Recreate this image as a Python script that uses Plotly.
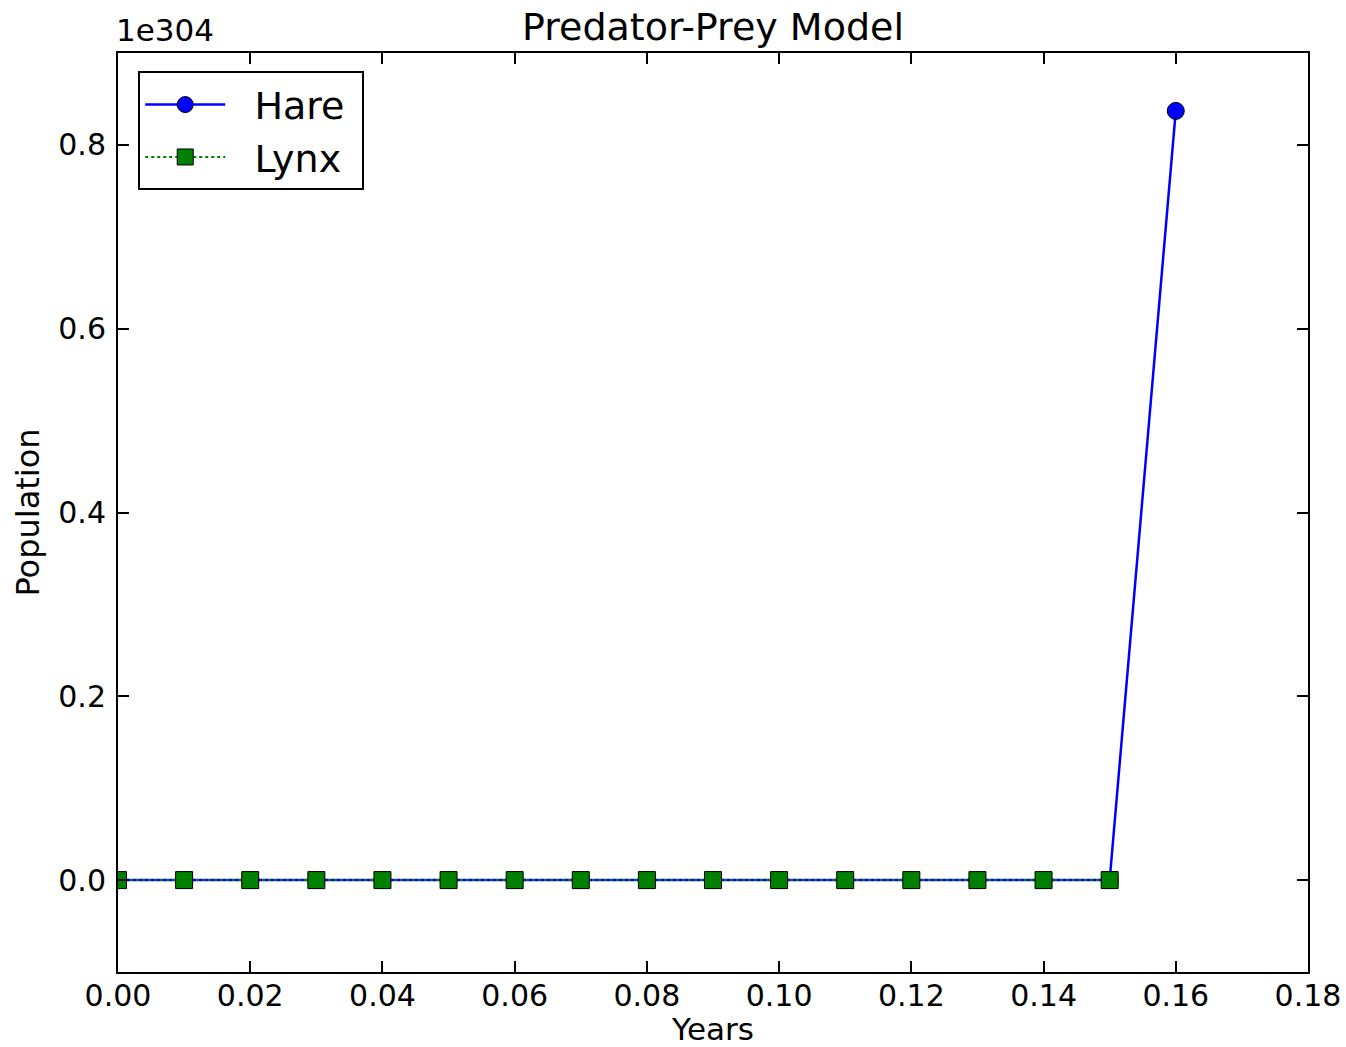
import plotly.graph_objects as go

# ---- data ----
SCALE = 1e304
years = [0.00, 0.01, 0.02, 0.03, 0.04, 0.05, 0.06, 0.07, 0.08,
         0.09, 0.10, 0.11, 0.12, 0.13, 0.14, 0.15, 0.16]
hare = [0.0, 0.0, 0.0, 0.0, 0.0, 0.0, 0.0, 0.0, 0.0,
        0.0, 0.0, 0.0, 0.0, 0.0, 0.0, 0.0, 8.37e303]
lynx_years = [0.00, 0.01, 0.02, 0.03, 0.04, 0.05, 0.06, 0.07,
              0.08, 0.09, 0.10, 0.11, 0.12, 0.13, 0.14, 0.15]
lynx = [0.0, 0.0, 0.0, 0.0, 0.0, 0.0, 0.0, 0.0,
        0.0, 0.0, 0.0, 0.0, 0.0, 0.0, 0.0, 0.0]

x_ticks = [0.00, 0.02, 0.04, 0.06, 0.08, 0.10, 0.12, 0.14, 0.16, 0.18]
x_tick_labels = ["0.00", "0.02", "0.04", "0.06", "0.08", "0.10",
                 "0.12", "0.14", "0.16", "0.18"]
y_ticks = [0.0, 0.2, 0.4, 0.6, 0.8]
y_tick_labels = ["0.0", "0.2", "0.4", "0.6", "0.8"]

FONT = "DejaVu Sans, Liberation Sans, sans-serif"
NB = "\u00a0"

fig = go.Figure()
fig.add_trace(go.Scatter(
    x=years, y=[v / SCALE for v in hare], name=NB * 2 + "Hare" + NB,
    mode="lines+markers",
    line=dict(color="#0000ff", width=2.5),
    marker=dict(symbol="circle", size=17, color="#0000ff",
                line=dict(color="black", width=1)),
))
fig.add_trace(go.Scatter(
    x=lynx_years, y=[v / SCALE for v in lynx], name=NB * 2 + "Lynx" + NB,
    mode="lines+markers",
    line=dict(color="#008000", width=2, dash="dot"),
    marker=dict(symbol="square", size=17, color="#008000",
                line=dict(color="black", width=1)),
))

axis_common = dict(
    showgrid=False, zeroline=False, automargin=False,
    showline=True, linecolor="black", linewidth=2, mirror="ticks",
    ticks="inside", ticklen=11, tickwidth=1.5, tickcolor="black",
    tickfont=dict(family=FONT, size=30, color="black"),
)

fig.update_layout(
    width=1346, height=1047,
    paper_bgcolor="white", plot_bgcolor="white",
    margin=dict(l=118, r=38, t=53, b=75),
    font=dict(family=FONT, color="black"),
    showlegend=True,
    legend=dict(
        x=0.017, y=0.98, xanchor="left", yanchor="top",
        bgcolor="white", bordercolor="black", borderwidth=2,
        font=dict(family=FONT, size=38, color="black"),
        itemwidth=80,
    ),
    xaxis=dict(
        range=[0, 0.18], tickvals=x_ticks, ticktext=x_tick_labels,
        ticklabelstandoff=-4,
        title=dict(text="Years", font=dict(family=FONT, size=31), standoff=2),
        **axis_common,
    ),
    yaxis=dict(
        range=[-0.1, 0.9], tickvals=y_ticks, ticktext=y_tick_labels,
        ticklabelstandoff=4,
        title=dict(text="Population", font=dict(family=FONT, size=32), standoff=9),
        **axis_common,
    ),
    annotations=[
        dict(text="Predator-Prey Model", x=0.5, y=1, xref="paper", yref="paper",
             xanchor="center", yanchor="bottom", yshift=2, showarrow=False,
             font=dict(family=FONT, size=38, color="black")),
        dict(text="1e304", x=0, y=1, xref="paper", yref="paper",
             xanchor="left", yanchor="bottom", yshift=3, xshift=-4, showarrow=False,
             font=dict(family=FONT, size=31, color="black")),
    ],
)

fig.write_html(
    "out.html",
    config={"displayModeBar": False},
    post_script="document.documentElement.style.margin='0';document.body.style.margin='0';document.documentElement.style.overflow='hidden';",
)
